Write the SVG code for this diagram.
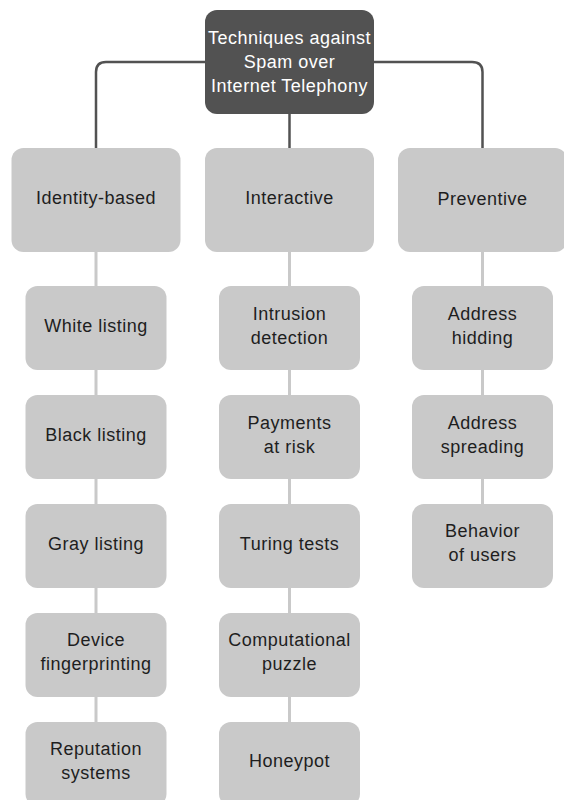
<svg xmlns="http://www.w3.org/2000/svg" width="564" height="800" viewBox="0 0 564 800">
  <style>
    .root rect { fill: #525252; }
    .root text { fill: #ffffff; }
    .box rect { fill: #c9c9c9; }
    text { font-family: "Liberation Sans", Arial, sans-serif; font-size: 18px; letter-spacing: 0.5px; fill: #1e1e1e; text-anchor: middle; }
    .main { fill: none; stroke: #525252; stroke-width: 2.5; }
    .sub { fill: none; stroke: #c9c9c9; stroke-width: 3; }
  </style>
  <rect width="564" height="800" fill="#ffffff"/>

  <!-- connectors -->
  <g id="connectors">
    <path class="main" d="M205,62 H106 Q96,62 96,72 V148"/>
    <path class="main" d="M374,62 H472 Q482.5,62 482.5,72 V148"/>
    <path class="main" d="M289.5,114 V148"/>
    <path class="sub" d="M96,252 V722"/>
    <path class="sub" d="M289.5,252 V722"/>
    <path class="sub" d="M482.5,252 V504"/>
  </g>

  <!-- root -->
  <g id="root" class="root">
    <rect x="205" y="10" width="169" height="104" rx="12"/>
    <text x="289.5" y="44">Techniques against</text>
    <text x="289.5" y="68">Spam over</text>
    <text x="289.5" y="92">Internet Telephony</text>
  </g>

  <!-- categories -->
  <g id="identity-based" class="box">
    <rect x="11.5" y="148" width="169" height="104" rx="12"/>
    <text x="96" y="204">Identity-based</text>
  </g>
  <g id="interactive" class="box">
    <rect x="205" y="148" width="169" height="104" rx="12"/>
    <text x="289.5" y="204">Interactive</text>
  </g>
  <g id="preventive" class="box">
    <rect x="398" y="148" width="169" height="104" rx="12"/>
    <text x="482.5" y="205">Preventive</text>
  </g>

  <!-- identity-based techniques -->
  <g id="white-listing" class="box">
    <rect x="25.5" y="286" width="141" height="84" rx="12"/>
    <text x="96" y="332">White listing</text>
  </g>
  <g id="black-listing" class="box">
    <rect x="25.5" y="395" width="141" height="84" rx="12"/>
    <text x="96" y="441">Black listing</text>
  </g>
  <g id="gray-listing" class="box">
    <rect x="25.5" y="504" width="141" height="84" rx="12"/>
    <text x="96" y="550">Gray listing</text>
  </g>
  <g id="device-fingerprinting" class="box">
    <rect x="25.5" y="613" width="141" height="84" rx="12"/>
    <text x="96" y="646">Device</text>
    <text x="96" y="670">fingerprinting</text>
  </g>
  <g id="reputation-systems" class="box">
    <rect x="25.5" y="722" width="141" height="84" rx="12"/>
    <text x="96" y="755">Reputation</text>
    <text x="96" y="779">systems</text>
  </g>

  <!-- interactive techniques -->
  <g id="intrusion-detection" class="box">
    <rect x="219" y="286" width="141" height="84" rx="12"/>
    <text x="289.5" y="320">Intrusion</text>
    <text x="289.5" y="344">detection</text>
  </g>
  <g id="payments-at-risk" class="box">
    <rect x="219" y="395" width="141" height="84" rx="12"/>
    <text x="289.5" y="429">Payments</text>
    <text x="289.5" y="453">at risk</text>
  </g>
  <g id="turing-tests" class="box">
    <rect x="219" y="504" width="141" height="84" rx="12"/>
    <text x="289.5" y="550">Turing tests</text>
  </g>
  <g id="computational-puzzle" class="box">
    <rect x="219" y="613" width="141" height="84" rx="12"/>
    <text x="289.5" y="646">Computational</text>
    <text x="289.5" y="670">puzzle</text>
  </g>
  <g id="honeypot" class="box">
    <rect x="219" y="722" width="141" height="84" rx="12"/>
    <text x="289.5" y="767">Honeypot</text>
  </g>

  <!-- preventive techniques -->
  <g id="address-hidding" class="box">
    <rect x="412" y="286" width="141" height="84" rx="12"/>
    <text x="482.5" y="320">Address</text>
    <text x="482.5" y="344">hidding</text>
  </g>
  <g id="address-spreading" class="box">
    <rect x="412" y="395" width="141" height="84" rx="12"/>
    <text x="482.5" y="429">Address</text>
    <text x="482.5" y="453">spreading</text>
  </g>
  <g id="behavior-of-users" class="box">
    <rect x="412" y="504" width="141" height="84" rx="12"/>
    <text x="482.5" y="537">Behavior</text>
    <text x="482.5" y="561">of users</text>
  </g>
</svg>
